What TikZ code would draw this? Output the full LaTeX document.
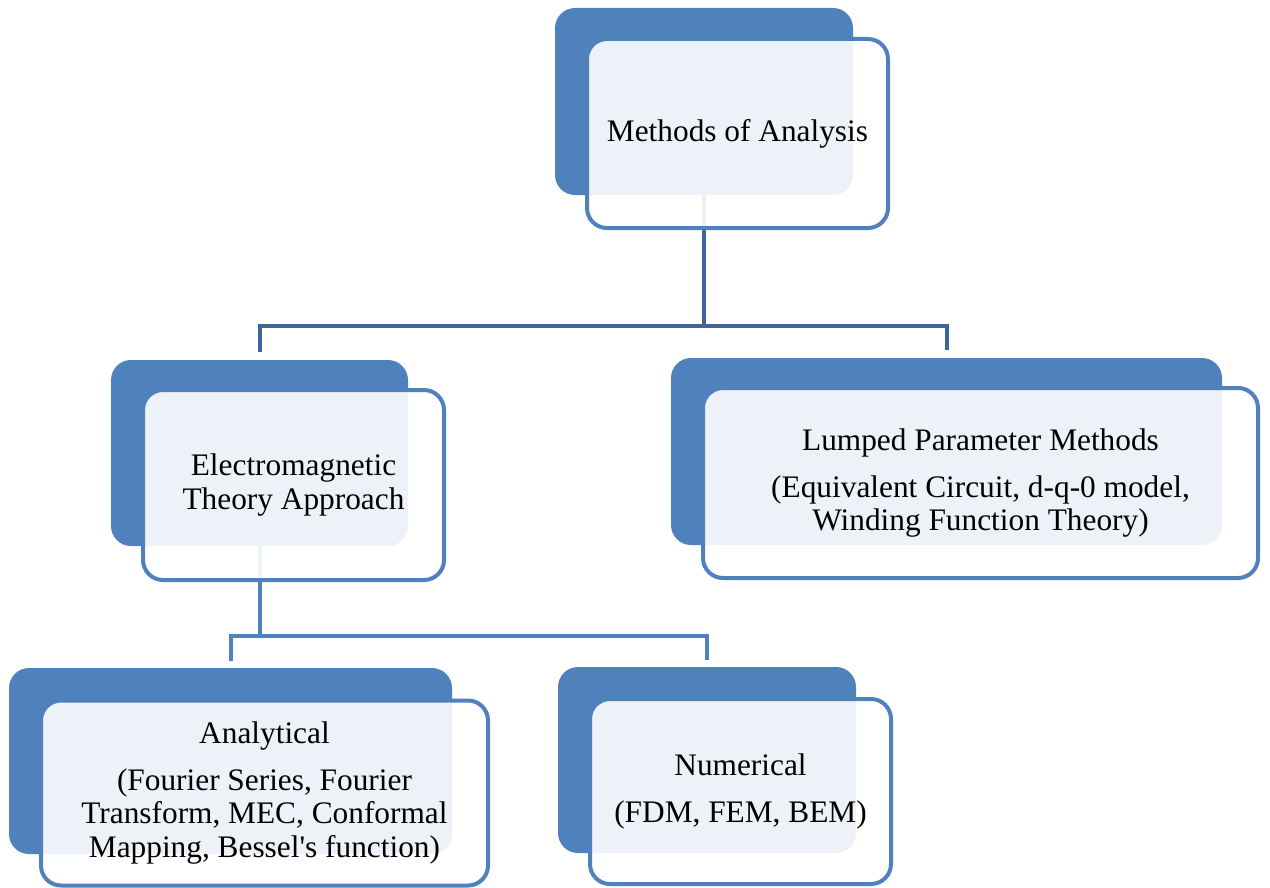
\documentclass[tikz,border=0pt]{standalone}
\usepackage{fontspec}
\setmainfont{Liberation Serif}
\definecolor{accent}{RGB}{79,129,189}
\definecolor{conndark}{RGB}{62,102,152}
\tikzset{
  backbox/.style={fill=accent, draw=none, rounded corners=15pt, inner sep=0pt},
  frontbox/.style={draw=accent, line width=3pt, fill=white, fill opacity=0.9, text opacity=1,
     rounded corners=15pt, inner sep=0pt, align=center,
     font=\fontsize{23.5pt}{25pt}\selectfont},
  connA/.style={draw=conndark, line width=3pt, shorten >=6pt},
  connB/.style={draw=accent, line width=3pt, shorten >=5pt},
}
\begin{document}
\begin{tikzpicture}[x=0.75pt,y=-0.75pt]
\useasboundingbox (0,0) rectangle (1270,888);
% back boxes
\node[backbox, minimum width=223.5pt, minimum height=140.25pt] (topback) at (704,101.5) {};
\node[backbox, minimum width=222.75pt, minimum height=139.5pt] (emback) at (259.5,453) {};
\node[backbox, minimum width=413.25pt, minimum height=140.25pt] (lpback) at (946.5,451.5) {};
\node[backbox, minimum width=332.25pt, minimum height=139.5pt] (anback) at (230.5,761) {};
\node[backbox, minimum width=223.5pt, minimum height=139.5pt] (nuback) at (707,760) {};
% connectors
\coordinate (j1) at (704,326);
\coordinate (j2) at (259.5,636);
\draw[connA] (topback.south) -- (j1) -| (emback.north);
\draw[connA] (j1) -| (lpback.north);
\draw[connB] (emback.south) -- (j2) -| (anback.north);
\draw[connB] (j2) -| (nuback.north);
% front boxes
\node[frontbox, minimum width=225.75pt, minimum height=141.75pt] (top) at (737.5,133.5) {Methods of Analysis};
\node[frontbox, minimum width=225.75pt, minimum height=142.5pt] (em) at (293.5,485) {Electromagnetic\\Theory Approach};
\node[frontbox, minimum width=416.25pt, minimum height=142.5pt] (lp) at (980.5,483) {Lumped Parameter Methods\\[10pt](Equivalent Circuit, d-q-0 model,\\Winding Function Theory)};
\node[frontbox, minimum width=335.25pt, minimum height=138.75pt] (an) at (264.5,793) {Analytical\\[10pt](Fourier Series, Fourier\\Transform, MEC, Conformal\\Mapping, Bessel\textquotesingle s function)};
\node[frontbox, minimum width=225.75pt, minimum height=138.75pt] (nu) at (740.5,791.5) {Numerical\\[10pt](FDM, FEM, BEM)};
\end{tikzpicture}
\end{document}
